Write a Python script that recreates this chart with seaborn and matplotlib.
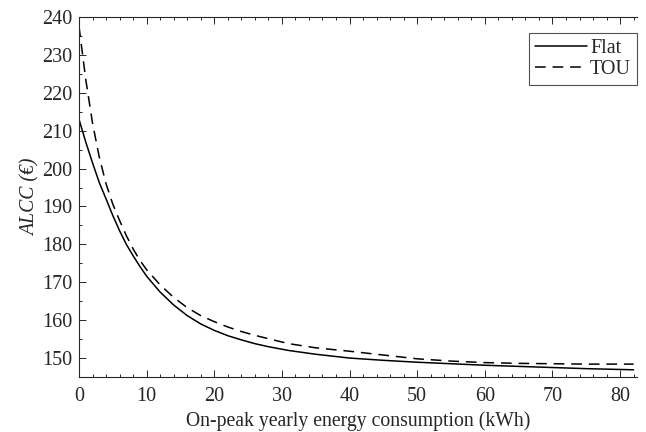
import numpy as np
import pandas as pd
import matplotlib
matplotlib.use("Agg")
import matplotlib.pyplot as plt
import seaborn as sns
from matplotlib.ticker import MultipleLocator

# On-peak yearly energy consumption (kWh)
energy = [0, 1, 2, 3, 4, 5, 6, 7, 8, 9, 10, 12, 14, 16, 18, 20, 22, 24, 26, 28,
          31, 35, 40, 45, 50, 55, 60, 65, 70, 75, 82]

# ALCC (EUR)
alcc_flat = [213.0, 207.0, 201.5, 196.3, 192.0, 187.6, 183.6, 180.0, 177.0, 174.2,
             171.6, 167.4, 164.0, 161.2, 159.0, 157.3, 155.9, 154.8, 153.8, 153.0,
             152.0, 151.0, 150.0, 149.4, 148.9, 148.5, 148.1, 147.8, 147.5, 147.2, 146.9]
alcc_tou = [237.5, 223.5, 212.0, 203.0, 196.0, 190.6, 186.3, 182.3, 178.8, 175.8,
            173.3, 169.3, 166.0, 163.3, 161.2, 159.6, 158.2, 157.0, 156.0, 155.1,
            153.8, 152.7, 151.8, 150.8, 149.8, 149.2, 148.8, 148.6, 148.5, 148.4, 148.4]

sns.set_theme(style="ticks")
plt.rcParams['font.family'] = ['Liberation Serif', 'DejaVu Serif']

dark = '#262626'

fig = plt.figure(figsize=(6.46, 4.32), dpi=100)
ax = fig.add_axes([79 / 646, 1 - 377 / 432, (637 - 79) / 646, (377 - 17) / 432])

sns.lineplot(x=energy, y=alcc_flat, ax=ax, color='black', linewidth=1.1, label='Flat')
sns.lineplot(x=energy, y=alcc_tou, ax=ax, color='black', linewidth=1.1,
             linestyle=(0, (7, 4.5)), label='TOU')

ax.set_xlim(0, 82.5)
ax.set_ylim(145, 240)
ax.xaxis.set_major_locator(MultipleLocator(10))
ax.xaxis.set_minor_locator(MultipleLocator(2))
ax.yaxis.set_major_locator(MultipleLocator(10))
ax.yaxis.set_minor_locator(MultipleLocator(5))

for side in ['left', 'bottom', 'top']:
    ax.spines[side].set_color(dark)
    ax.spines[side].set_linewidth(0.8)
ax.spines['right'].set_visible(False)

ax.tick_params(which='both', direction='in', top=True, right=False, colors=dark,
               labelsize=14.5, width=0.7)
ax.tick_params(which='major', length=5)
ax.tick_params(which='minor', length=2.5)
ax.tick_params(axis='x', pad=7)
ax.tick_params(axis='y', pad=5)

ax.set_xlabel('On-peak yearly energy consumption (kWh)', fontsize=14.2, color=dark, labelpad=4)
ax.set_ylabel('ALCC (€)', fontsize=14.2, color=dark, style='italic', labelpad=1)

leg = ax.legend(loc='upper right', bbox_to_anchor=(1.0, 1 - 16 / 360), fontsize=14.5,
                frameon=True, fancybox=False, handlelength=2.6, borderpad=0.3,
                labelspacing=0.1, handletextpad=0.15, borderaxespad=0.0)
leg.get_frame().set_edgecolor(dark)
leg.get_frame().set_linewidth(0.8)
for t in leg.get_texts():
    t.set_color(dark)

fig.savefig('out.png', dpi=100)
